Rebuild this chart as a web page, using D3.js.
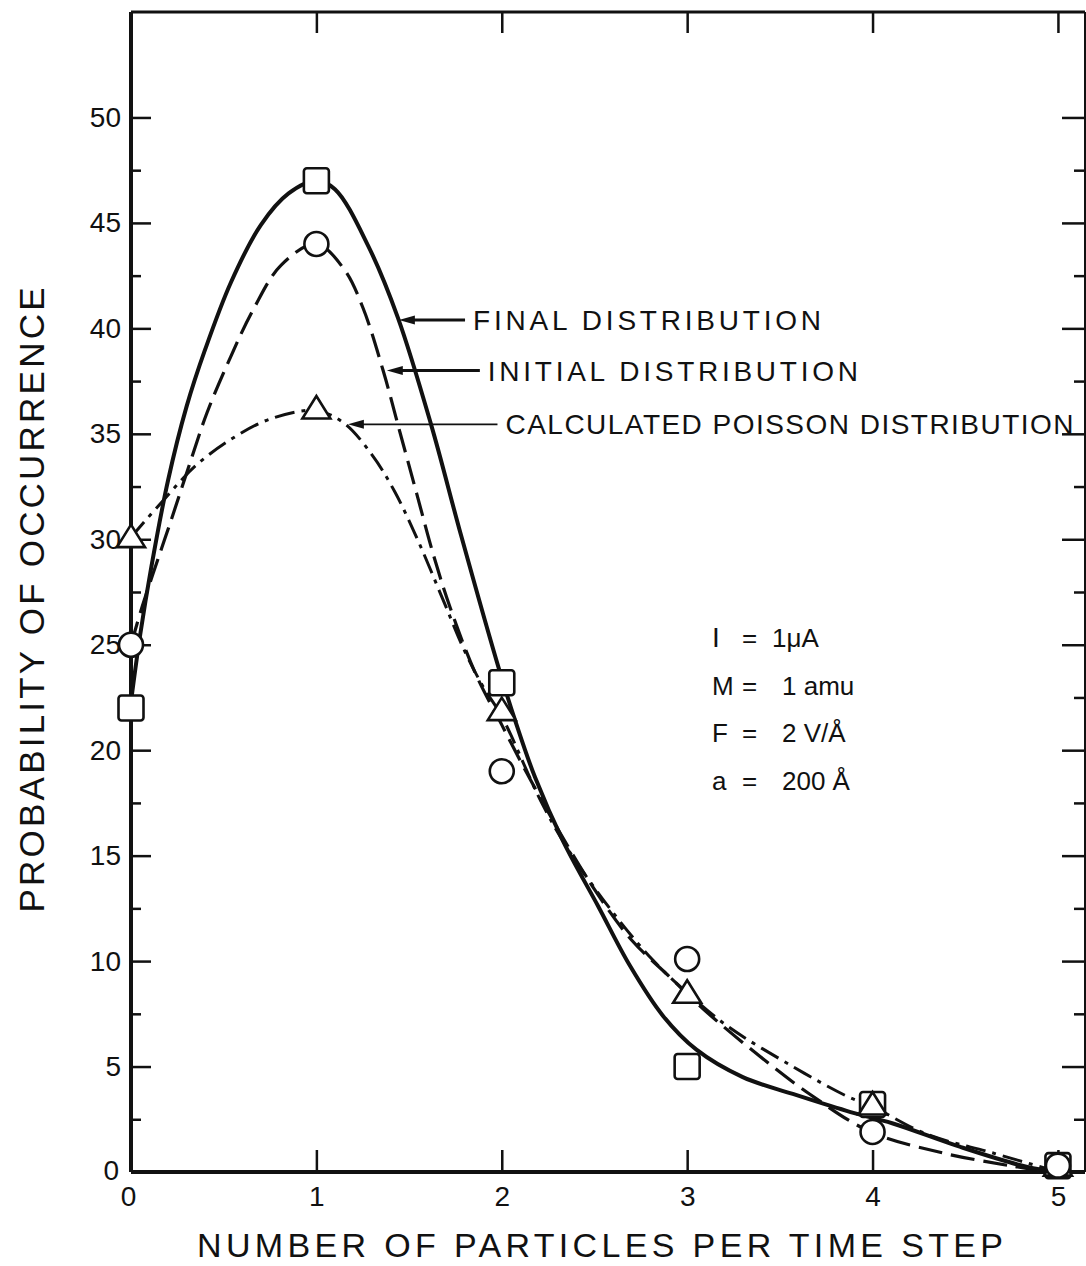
<!DOCTYPE html>
<html>
<head>
<meta charset="utf-8">
<script src="https://cdn.jsdelivr.net/npm/d3@7"></script>
<style>
  body { margin: 0; background: #fff; }
  text { font-family: "Liberation Sans", Arial, sans-serif; fill: #111; }
</style>
</head>
<body>
<script>
const width = 1086;
const height = 1266;
const margin = {top: 12, right: 1, bottom: 94, left: 131};

// measured points (per cent), one per particle count
const counts = [0, 1, 2, 3, 4, 5];
const finalValues = [22.0, 47.0, 23.2, 5.0, 3.2, 0.3];
const initialValues = [25.0, 44.0, 19.0, 10.1, 1.9, 0.3];
const poissonValues = [30.1, 36.2, 21.9, 8.5, 3.2, 0.3];

// the hand drawn curves as [count, per cent]
const finalCurve = [[0, 22.3], [0.05, 25.5], [0.11, 28.7], [0.2, 32.8], [0.3, 36.3], [0.4, 39.0],
  [0.54, 42.2], [0.7, 44.9], [0.85, 46.4], [1.0, 47.0], [1.1, 46.6], [1.28, 43.9],
  [1.44, 40.5], [1.62, 35.4], [1.78, 30.2], [1.99, 23.7], [2.08, 21.2], [2.18, 18.7], [2.33, 15.7],
  [2.52, 12.6], [2.69, 9.8], [2.87, 7.4], [3.05, 5.8], [3.30, 4.5], [3.57, 3.7], [3.86, 2.9],
  [4.11, 2.3], [4.47, 1.2], [4.83, 0.25], [5.0, 0]];
const initialCurve = [[0, 25.0], [0.06, 26.8], [0.12, 28.4], [0.22, 31.0], [0.31, 33.4], [0.41, 36.0],
  [0.54, 38.7], [0.66, 40.9], [0.81, 43.0], [1.0, 44.0], [1.15, 42.8], [1.25, 41.0], [1.36, 38.0],
  [1.45, 35.1], [1.54, 32.2], [1.63, 29.3], [1.72, 26.8], [1.86, 23.6], [2.0, 21.2], [2.13, 19.0],
  [2.3, 16.3], [2.5, 13.4], [2.7, 11.0], [2.9, 9.3], [3.09, 7.7], [3.39, 5.5], [3.66, 3.7],
  [3.99, 1.9], [4.38, 0.9], [4.74, 0.3], [4.95, 0]];
const poissonCurve = [[0, 30.1], [0.18, 31.9], [0.35, 33.5], [0.55, 34.8], [0.75, 35.7], [1.0, 36.1],
  [1.15, 35.5], [1.3, 34.0], [1.42, 32.3], [1.55, 29.9], [1.68, 27.2], [1.8, 24.7], [1.9, 23.0],
  [2.0, 21.6], [2.21, 17.6], [2.35, 15.4], [2.6, 12.3], [2.82, 10.0], [3.0, 8.5],
  [3.22, 6.9], [3.57, 5.0], [3.86, 3.6], [4.0, 3.1], [4.29, 1.8], [4.65, 0.9], [5.0, 0]];

const xTicks = [0, 1, 2, 3, 4, 5];
const yTicks = [0, 5, 10, 15, 20, 25, 30, 35, 40, 45, 50];
const yMinorTicks = [2.5, 7.5, 12.5, 17.5, 22.5, 27.5, 32.5, 37.5, 42.5, 47.5];

const labels = ["FINAL DISTRIBUTION", "INITIAL DISTRIBUTION", "CALCULATED POISSON DISTRIBUTION"];
const labelTips = [[1.445, 40.4], [1.38, 38.0], [1.17, 35.45]];   // where each arrow touches its curve
const labelStarts = [1.845, 1.925, 2.02];                       // count where each label starts

const paramNames = ["I", "M", "F", "a"];
const paramValues = ["1\u03bcA", "1 amu", "2 V/\u00c5", "200 \u00c5"];

const x = d3.scaleLinear().domain([0, 5.146]).range([margin.left, width - margin.right]);
const y = d3.scaleLinear().domain([0, 55]).range([height - margin.bottom, margin.top]);

const svg = d3.select("body").append("svg")
    .attr("width", width)
    .attr("height", height);

// ticks, all pointing into the plot
const axisG = svg.append("g");
const addAxis = (axis, tx, ty) => {
  const g = axisG.append("g").attr("transform", `translate(${tx},${ty})`).call(axis);
  g.select(".domain").remove();
  g.selectAll(".tick line").attr("stroke", "#111").attr("stroke-width", 2.5);
  g.selectAll(".tick text").attr("fill", "#111").attr("font-family", "Liberation Sans");
  return g;
};

addAxis(d3.axisLeft(y).tickValues(yTicks.slice(1)).tickSize(-20).tickPadding(10), margin.left, 0)
  .selectAll("text").attr("font-size", 28);
addAxis(d3.axisLeft(y).tickValues(yMinorTicks).tickSize(-10).tickFormat(""), margin.left, 0);
addAxis(d3.axisRight(y).tickValues(yTicks.slice(1)).tickSize(-23).tickFormat(""), width - margin.right, 0);
addAxis(d3.axisRight(y).tickValues(yMinorTicks).tickSize(-11).tickFormat(""), width - margin.right, 0);
addAxis(d3.axisBottom(x).tickValues(xTicks).tickSize(-22).tickPadding(14).tickFormat(d3.format("d")), 0, y(0))
  .selectAll("text").attr("font-size", 28).attr("dx", (d, i) => i === 0 ? -3 : 0);
addAxis(d3.axisTop(x).tickValues(xTicks.slice(1)).tickSize(-21).tickFormat(""), 0, margin.top);

// y=0 label sits at the corner
axisG.append("text")
    .attr("x", margin.left - 12)
    .attr("y", y(0))
    .attr("dy", "0.3em")
    .attr("text-anchor", "end")
    .attr("font-size", 28)
    .text(yTicks[0]);

// frame
const frame = svg.append("g").attr("stroke", "#111").attr("fill", "none");
frame.append("line").attr("x1", x(0)).attr("x2", x(0)).attr("y1", y(55)).attr("y2", y(0)).attr("stroke-width", 4);
frame.append("line").attr("x1", x(0)).attr("x2", x(5.146)).attr("y1", y(0)).attr("y2", y(0)).attr("stroke-width", 4);
frame.append("line").attr("x1", x(0)).attr("x2", x(5.146)).attr("y1", y(55)).attr("y2", y(55)).attr("stroke-width", 3);
frame.append("line").attr("x1", x(5.146)).attr("x2", x(5.146)).attr("y1", y(55)).attr("y2", y(0)).attr("stroke-width", 2);

// curves
const line = d3.line()
    .x(d => x(d[0]))
    .y(d => y(d[1]))
    .curve(d3.curveCatmullRom.alpha(0.5));

const curves = svg.append("g").attr("fill", "none").attr("stroke", "#111").attr("stroke-linecap", "butt");
curves.append("path").attr("d", line(poissonCurve)).attr("stroke-width", 3).attr("stroke-dasharray", "20 7 4 7");
curves.append("path").attr("d", line(initialCurve)).attr("stroke-width", 3.2).attr("stroke-dasharray", "24 9");
curves.append("path").attr("d", line(finalCurve)).attr("stroke-width", 4);

// annotations with arrows
const notes = svg.append("g");
labels.forEach((t, i) => {
  const tx = x(labelTips[i][0]);
  const ty = y(labelTips[i][1]);
  const sx = x(labelStarts[i]);
  notes.append("line")
      .attr("x1", tx + 10).attr("x2", sx - 8)
      .attr("y1", ty).attr("y2", ty)
      .attr("stroke", "#111")
      .attr("stroke-width", i === 2 ? 1.6 : 3);
  notes.append("path")
      .attr("d", `M${tx},${ty}L${tx + 16},${ty - 4.5}L${tx + 16},${ty + 4.5}Z`)
      .attr("fill", "#111");
  notes.append("text")
      .attr("x", sx)
      .attr("y", ty)
      .attr("dy", "0.36em")
      .attr("font-size", 28)
      .attr("textLength", [348, 370, 568][i])
      .attr("lengthAdjust", "spacing")
      .text(t);
});

// run parameters
const params = svg.append("g").attr("font-size", 26);
paramNames.forEach((p, i) => {
  const by = 647 + i * 47.5;
  params.append("text").attr("x", 712).attr("y", by)
      .attr("font-family", p === "I" ? "Liberation Serif" : "Liberation Sans")
      .attr("font-size", p === "I" ? 28 : 26)
      .text(p);
  params.append("text").attr("x", 742).attr("y", by).text("=");
  params.append("text").attr("x", i === 0 ? 772 : 782).attr("y", by)
      .text(paramValues[i]);
});

// markers, white filled so the curves pass beneath them
const marks = svg.append("g").attr("fill", "#fff").attr("stroke", "#111").attr("stroke-width", 2.6);
const tri = "M0,-12.5L14,10L-14,10Z";
marks.selectAll(".sq").data(counts).join("rect")
    .attr("x", d => x(d) - 12.5).attr("y", (d, i) => y(finalValues[i]) - 12.5)
    .attr("width", 25).attr("height", 25).attr("rx", 3);
marks.selectAll(".tri").data(counts).join("path")
    .attr("d", tri)
    .attr("transform", (d, i) => `translate(${x(d)},${y(poissonValues[i])})`);
marks.selectAll(".circ").data(counts).join("circle")
    .attr("cx", d => x(d)).attr("cy", (d, i) => y(initialValues[i]))
    .attr("r", 12);

// axis titles
svg.append("text")
    .attr("transform", `translate(44,${(margin.top + y(0)) / 2 + 8}) rotate(-90)`)
    .attr("text-anchor", "middle")
    .attr("font-size", 35)
    .attr("textLength", 625)
    .attr("lengthAdjust", "spacing")
    .text("PROBABILITY OF OCCURRENCE");

svg.append("text")
    .attr("x", 600)
    .attr("y", 1257)
    .attr("text-anchor", "middle")
    .attr("font-size", 34)
    .attr("textLength", 806)
    .attr("lengthAdjust", "spacing")
    .text("NUMBER OF PARTICLES PER TIME STEP");
</script>
</body>
</html>
